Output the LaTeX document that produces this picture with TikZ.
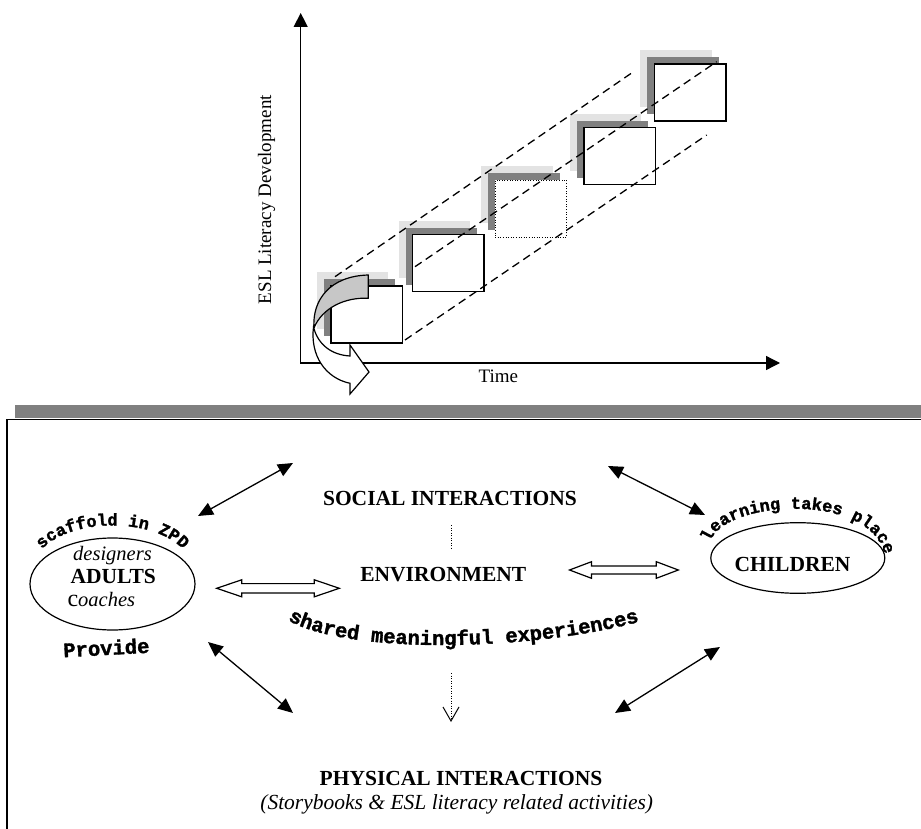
\documentclass[tikz,border=0pt]{standalone}
\usepackage{fontspec}
\setmainfont{Liberation Serif}
\newfontfamily\cour{Liberation Mono}[BoldFeatures={FakeBold=1.6}]
\usetikzlibrary{arrows.meta,decorations.text,calc,shapes.geometric}
\begin{document}
\begin{tikzpicture}[x=1pt,y=-1pt,
  axisline/.style={line width=1.3pt,{Triangle[length=14pt,width=14pt]}-{Triangle[length=14pt,width=14pt]}},
  lshade/.style={fill=black!11},
  dshade/.style={fill=black!50},
  frame/.style={draw,line width=1.5pt,fill=white,minimum width=71.5pt,minimum height=57pt,inner sep=0pt},
  dotframe/.style={frame,line width=1.1pt,dash pattern=on 1pt off 1.6pt},
  dashline/.style={line width=1.3pt,dash pattern=on 8pt off 5pt},
  dblarrow/.style={line width=1.3pt,{Triangle[length=15pt,width=13pt]}-{Triangle[length=15pt,width=13pt]}},
  hollow/.style={line width=1.2pt,fill=white,line join=miter},
  bigbold/.style={font=\fontsize{21.5}{24}\selectfont\bfseries,inner sep=0pt},
  bigit/.style={font=\fontsize{21.5}{24}\selectfont\itshape,inner sep=0pt},
  smallit/.style={font=\fontsize{20.5}{22}\selectfont\itshape,inner sep=0pt},
  axlabel/.style={font=\fontsize{19}{20}\selectfont,inner sep=0pt},
  oval/.style={draw,ellipse,line width=1.2pt,inner sep=0pt}
]
\useasboundingbox (0,0) rectangle (921,829);

% ---------- upper chart ----------
\coordinate (O) at (300.7,363);
\coordinate (ytop) at (300.7,13);
\coordinate (xend) at (780,363);
\draw[axisline] (ytop) -- (O) -- (xend);
\node[axlabel,rotate=90,anchor=base] (ylab) at (271,199.7) {ESL Literacy Development};
\node[axlabel,anchor=base] (time) at (498.3,382.7) {Time};

\foreach \cx/\cy in {366.5/314.5, 448.35/263.15, 530.85/208.85, 619.65/156.2, 690.15/92.5}{
  \fill[lshade] (\cx-49.75,\cy-42.5) rectangle ++(71.5,57);
  \fill[dshade] (\cx-42.75,\cy-35.5) rectangle ++(71.5,57);
}
\node[frame] (b1) at (366.5,314.5) {};
\node[frame] (b2) at (448.35,263.15) {};
\node[dotframe] (b3) at (530.85,208.85) {};
\node[frame] (b4) at (619.65,156.2) {};
\node[frame] (b5) at (690.15,92.5) {};

\coordinate (u1) at (335,276.7);   \coordinate (u2) at (635,70.7);
\coordinate (m1) at (415,266.7);   \coordinate (m2) at (716.7,61.7);
\coordinate (l1) at (405,340);     \coordinate (l2) at (706.7,135);
\draw[dashline] (u1) -- (u2);
\draw[dashline] (m1) -- (m2);
\draw[dashline] (l1) -- (l2);

% curved block arrow
\filldraw[fill=black!22,line width=1.2pt,line join=round]
  (368.3,275) -- (368.3,298.3) .. controls (345,297) and (322,308) .. (314,328)
  .. controls (312,300) and (330,276) .. (368.3,275) -- cycle;
\filldraw[fill=white,line width=1.2pt,line join=miter]
  (313.5,327) .. controls (318,345) and (332,355) .. (350,356)
  -- (350,345) -- (369,372) -- (350,394) -- (350,383.3)
  .. controls (325,378) and (310,355) .. (313.5,327) -- cycle;

% ---------- lower panel ----------
\fill[black!50] (15,405) rectangle (921,418.3);
\draw[line width=1.5pt,line join=miter] (7,829) -- (7,419.5) -- (921,419.5);

\node[bigbold,anchor=base] (social) at (450,505) {SOCIAL INTERACTIONS};
\node[bigbold,anchor=base] (env) at (443.3,581.7) {ENVIRONMENT};
\node[bigbold,anchor=base] (phys) at (461,785) {PHYSICAL INTERACTIONS};
\node[bigit,anchor=base] (physsub) at (456.7,809.3) {(Storybooks \& ESL literacy related activities)};

\node[oval,minimum width=165pt,minimum height=92pt] (adults) at (112.5,584) {};
\node[smallit,anchor=base] (designers) at (112.5,560) {designers};
\node[bigbold,anchor=base] (adultsname) at (113.3,583.3) {ADULTS};
\node[smallit,anchor=base] (coaches) at (101.3,606.7) {{\upshape\fontsize{24}{24}\selectfont c}oaches};

\node[oval,minimum width=174pt,minimum height=70.6pt] (children) at (797.8,558) {};
\node[bigbold,anchor=base] (childrenname) at (792.5,571.7) {CHILDREN};

\node[font=\cour\bfseries\fontsize{20.5}{21}\selectfont,anchor=base,rotate=3,inner sep=0pt] (provide) at (106.7,655) {Provide};

\path[decorate,decoration={text along path,text align=center,
  text={|\cour\bfseries\fontsize{17}{18}\selectfont|scaffold in ZPD}}]
  (38,554) .. controls (65,516) and (160,516) .. (187,554);
\path[decorate,decoration={text along path,text align=center,
  text={|\cour\bfseries\fontsize{17}{18}\selectfont|learning takes place}}]
  (710,544) .. controls (718,500) and (872,490) .. (885,556);
\path[decorate,decoration={text along path,text align=center,
  text={|\cour\bfseries\fontsize{20.5}{21}\selectfont|shared meaningful experiences}}]
  (282,616) .. controls (330,654) and (525,654) .. (646,620);

% thin double arrows
\coordinate (a1s) at (198,516);  \coordinate (a1e) at (293,463);
\coordinate (a2s) at (208,642);  \coordinate (a2e) at (293,713);
\coordinate (a3s) at (608,466);  \coordinate (a3e) at (705,515);
\coordinate (a4s) at (720,647);  \coordinate (a4e) at (615,713);
\draw[dblarrow] (a1s) -- (a1e);
\draw[dblarrow] (a2s) -- (a2e);
\draw[dblarrow] (a3s) -- (a3e);
\draw[dblarrow] (a4s) -- (a4e);

% hollow double arrows
\coordinate (hl1) at (216.7,588.3); \coordinate (hr1) at (339.3,588.3);
\draw[hollow] (hl1) -- ++(25,-8.5) -- ++(0,3.8) -- ($(hr1)+(-25,-4.7)$) -- ++(0,-3.8) -- (hr1)
  -- ++(-25,8.5) -- ++(0,-3.8) -- ($(hl1)+(25,4.7)$) -- ++(0,3.8) -- cycle;
\coordinate (hl2) at (569.5,570); \coordinate (hr2) at (678.3,570);
\draw[hollow] (hl2) -- ++(22,-8.3) -- ++(0,4.3) -- ($(hr2)+(-22,-4)$) -- ++(0,-4.3) -- (hr2)
  -- ++(-22,8.3) -- ++(0,-4.3) -- ($(hl2)+(22,4)$) -- ++(0,4.3) -- cycle;

% dotted links
\coordinate (d1) at (451.7,525); \coordinate (d2) at (451.7,549.3);
\draw[line width=1pt,dash pattern=on 1pt off 1.5pt] (d1) -- (d2);
\coordinate (d3) at (451,673); \coordinate (d4) at (451,722);
\draw[line width=1pt,dash pattern=on 1pt off 1.5pt,-{Straight Barb[length=14pt,width=16pt]}] (d3) -- (d4);
\end{tikzpicture}
\end{document}
